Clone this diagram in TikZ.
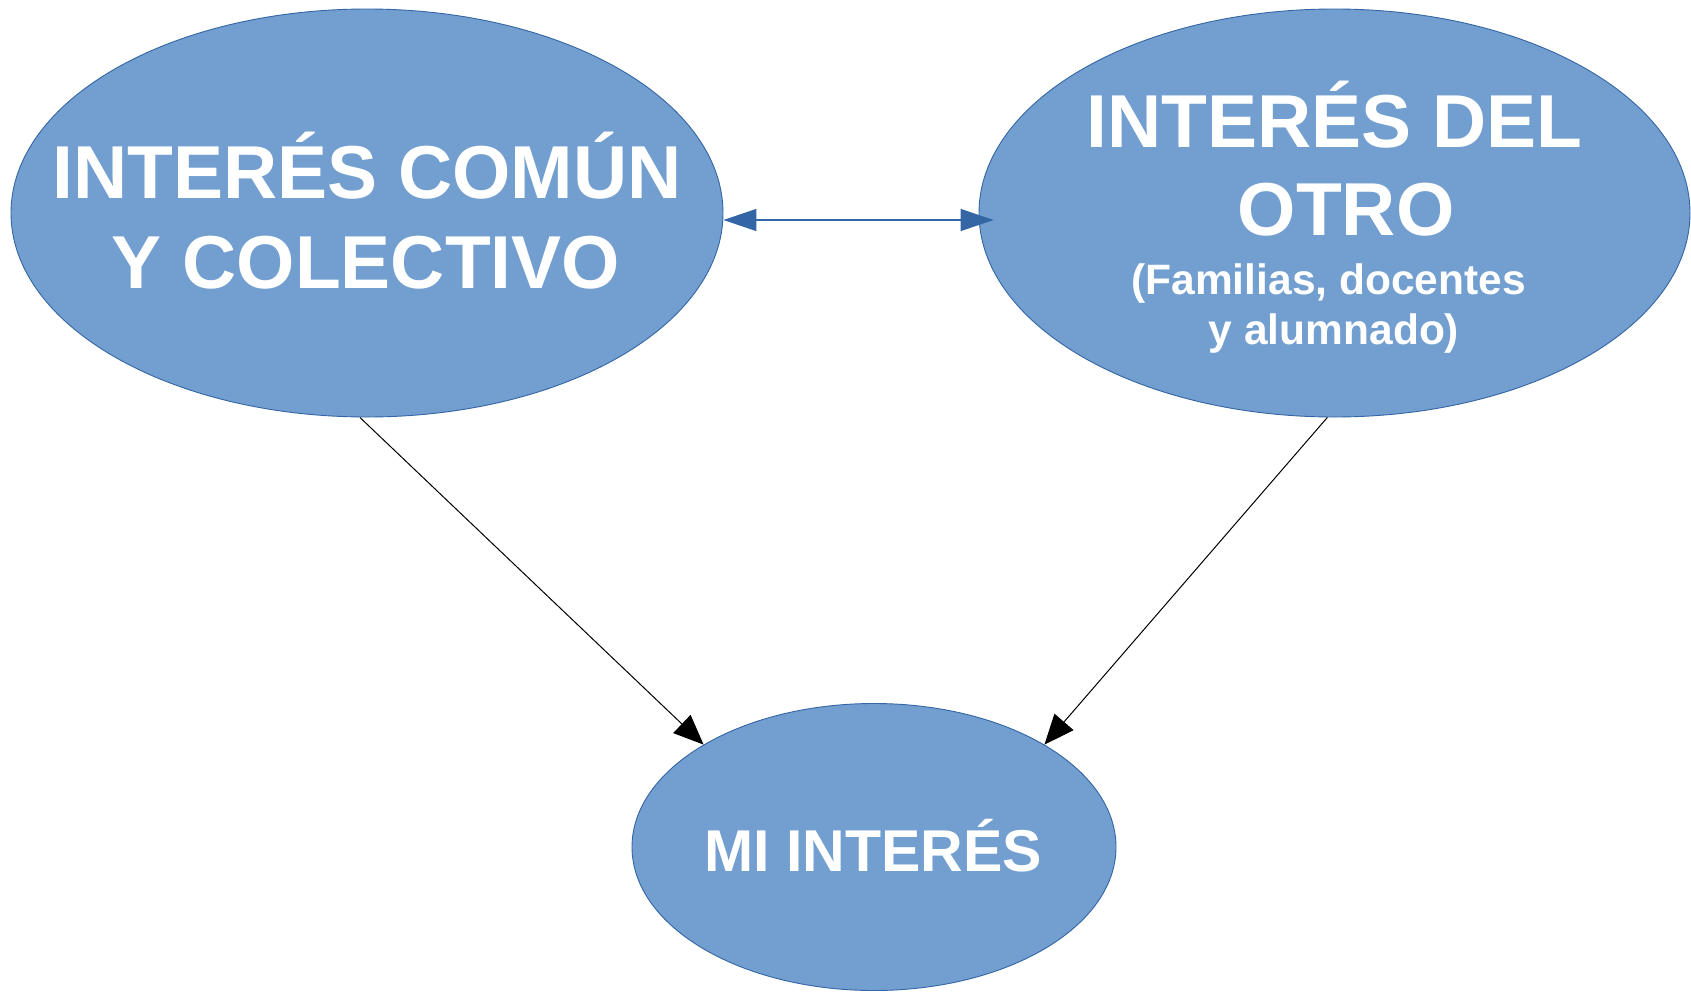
\documentclass[tikz,border=0pt]{standalone}
\usepackage{fontspec}
\setmainfont{Liberation Sans}
\usetikzlibrary{shapes.geometric,arrows.meta,calc}
\definecolor{fillblue}{HTML}{729FCF}
\definecolor{edgeblue}{HTML}{3465A4}
\tikzset{
  blob/.style={ellipse, draw=edgeblue, fill=fillblue, line width=0.9pt, inner sep=0pt},
  big/.style={text=white, font=\fontsize{75}{88}\selectfont\bfseries, anchor=base, inner sep=0pt},
  mid/.style={text=white, font=\fontsize{59}{68}\selectfont\bfseries, anchor=base, inner sep=0pt},
  small/.style={text=white, font=\fontsize{42.5}{50}\selectfont\bfseries, anchor=base, inner sep=0pt},
  link/.style={draw=black, line width=1pt, -{Triangle[length=30pt,width=25pt]}},
  twoway/.style={draw=edgeblue, line width=1.5pt, {Triangle[length=33pt,width=22pt]}-{Triangle[length=33pt,width=22pt]}}
}
\begin{document}
\begin{tikzpicture}[x=1pt,y=-1pt]
\useasboundingbox (0,0) rectangle (1691,993);
\node[blob, minimum width=712pt, minimum height=408pt] (L) at (367,213) {};
\node[blob, minimum width=711pt, minimum height=408pt] (R) at (1334.5,213) {};
\node[blob, minimum width=484pt, minimum height=287pt] (M) at (874,847) {};
\node[big] (l1) at (367,198) {INTERÉS COMÚN};
\node[big] (l2) at (366,288) {Y COLECTIVO};
\node[big] (r1) at (1334.6,147) {INTERÉS DEL};
\node[big] (r2) at (1346,235) {OTRO};
\node[small] (r3) at (1328.6,294) {(Familias, docentes};
\node[small] (r4) at (1334,344) {y alumnado)};
\node[mid] (m1) at (873,871) {MI INTERÉS};
\coordinate (a1) at ($(L.east)+(0,7)$);
\coordinate (a2) at ($(R.west)+(15,7)$);
\draw[twoway] (a1) -- (a2);
\draw[link] (L.268) -- (M.149);
\draw[link] (R.268) -- (M.31.5);
\end{tikzpicture}
\end{document}
